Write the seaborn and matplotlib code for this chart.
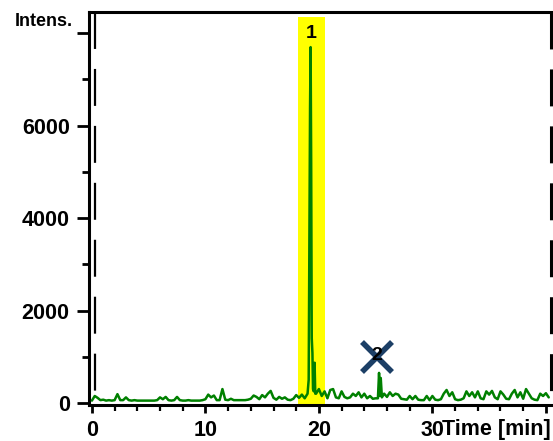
import numpy as np
import pandas as pd
import seaborn as sns
import matplotlib
matplotlib.use("Agg")
import matplotlib.pyplot as plt

sns.set_style("white")
plt.rcParams["font.family"] = ["Liberation Sans", "DejaVu Sans"]
plt.rcParams["font.weight"] = "bold"
plt.rcParams["lines.scale_dashes"] = False
plt.rcParams["text.color"] = "black"
plt.rcParams["xtick.color"] = "black"
plt.rcParams["ytick.color"] = "black"
plt.rcParams["axes.labelcolor"] = "black"

# ---- data ----
base1_start, base1_step = 0.0, 0.25
base1_int = [50, 150, 110, 60, 70, 50, 60, 50,
             60, 190, 60, 60, 120, 60, 50, 60,
             50, 50, 50, 50, 50, 50, 50, 60,
             120, 80, 130, 60, 50, 60, 130, 60,
             50, 50, 60, 50, 50, 50, 50, 60,
             80, 180, 120, 160, 60, 60, 300, 70,
             60, 90, 60, 60, 60, 60, 60, 70,
             90, 160, 130, 80, 170, 120, 200, 260,
             110, 70, 130, 90, 120, 70, 60, 90,
             170, 110, 180, 100]
peak1_time = [19.0, 19.1, 19.18, 19.22, 19.27, 19.32, 19.37, 19.43, 19.48, 19.55, 19.62, 19.68]
peak1_int = [200, 500, 4500, 6400, 7700, 5200, 1400, 1080, 300, 250, 870, 200]
base2_start = 19.75
base2_int = [200, 300, 150, 250, 100, 280, 300, 120,
             100, 250, 130, 100, 120, 200, 150, 230,
             120, 200, 100, 150, 90, 100]
peak2_time = [25.2, 25.3, 25.38, 25.45, 25.55]
peak2_int = [100, 650, 150, 540, 120]
base3_start = 25.75
base3_int = [200, 130, 230, 150, 200, 180, 90, 80,
             70, 150, 80, 150, 70, 60, 60, 150,
             60, 150, 70, 60, 80, 200, 280, 150,
             230, 80, 60, 70, 100, 250, 150, 230,
             120, 250, 100, 80, 250, 180, 260, 120,
             80, 250, 180, 90, 80, 200, 280, 120,
             230, 90, 300, 200, 100, 70, 60, 200,
             150, 210, 120]

highlight_range = [18.15, 20.53]
highlight_top = 8355
peak_labels = ["1", "2"]
peak_label_pos = [(19.3, 8000), (25.1, 1030)]
excluded_peak = (25.1, 995)

x_major = [0, 10, 20, 30, 40]
x_major_labels = ["0", "10", "20", "30", ""]
x_minor = list(range(0, 41, 2))
y_major = [0, 2000, 4000, 6000, 8000]
y_major_labels = ["0", "2000", "4000", "6000", ""]
y_minor = [1000, 3000, 5000, 7000]

def grid(start, step, vals):
    return [round(start + i * step, 3) for i in range(len(vals))]

time = (grid(base1_start, base1_step, base1_int) + peak1_time +
        grid(base2_start, base1_step, base2_int) + peak2_time +
        grid(base3_start, base1_step, base3_int))
intensity = base1_int + peak1_int + base2_int + peak2_int + base3_int
df = pd.DataFrame({"time": time, "intensity": intensity})

# ---- figure ----
W, H = 553, 441
fig = plt.figure(figsize=(W / 100, H / 100), dpi=100)
ax = fig.add_axes([88.5 / W, 1 - 405 / H, (551 - 88.5) / W, (405 - 12) / H])
ax.set_xlim(-0.3, 40.45)
ax.set_ylim(-45, 8460)

ax.fill_between(highlight_range, -20, highlight_top, color="#ffff00", lw=0, zorder=1)

sns.lineplot(data=df, x="time", y="intensity", ax=ax, color="#008000", lw=1.8,
             estimator=None, sort=False, zorder=3)

ax.plot([excluded_peak[0]], [excluded_peak[1]], marker="x", ms=21, mew=4,
        color="#1c3f66", zorder=4, ls="none")
for lab, (px, py) in zip(peak_labels, peak_label_pos):
    ax.text(px, py, lab, ha="center", va="center", fontsize=14,
            fontweight="bold", color="black", zorder=5)

# dashed vertical lines
trans = ax.get_xaxis_transform()
for xv, lw in [(0.27, 1.6), (40.43, 2.2)]:
    ax.plot([xv, xv], [1, 0], transform=trans, color="black", lw=lw,
            linestyle=(0, (26.6, 14.4)), solid_capstyle="butt",
            dash_capstyle="butt", clip_on=False, zorder=6)

for side in ["left", "top", "bottom"]:
    ax.spines[side].set_linewidth(2.2)
    ax.spines[side].set_color("black")
    ax.spines[side].set_visible(True)
ax.spines["right"].set_visible(False)

ax.set_xticks(x_major)
ax.set_xticklabels(x_major_labels)
ax.set_xticks(x_minor, minor=True)
ax.set_yticks(y_major)
ax.set_yticklabels(y_major_labels)
ax.set_yticks(y_minor, minor=True)
ax.tick_params(axis="x", which="major", direction="out", length=6, width=2,
               pad=5, labelsize=15.5, bottom=True, colors="black")
ax.tick_params(axis="x", which="minor", direction="out", length=4, width=1.6,
               bottom=True, colors="black")
ax.tick_params(axis="y", which="major", direction="out", length=8.5, width=2,
               pad=5, labelsize=15.5, left=True, colors="black")
ax.tick_params(axis="y", which="minor", direction="out", length=5, width=2,
               left=True, colors="black")
for lab in ax.get_xticklabels() + ax.get_yticklabels():
    lab.set_fontweight("bold")
ax.set_xlabel("")
ax.set_ylabel("")

fig.text(73 / W, 1 - 22 / H, "Intens.", ha="right", va="center", fontsize=13,
         fontweight="bold", color="black")
fig.text(551 / W, 1 - 430 / H, "Time [min]", ha="right", va="center",
         fontsize=15.5, fontweight="bold", color="black")

fig.savefig("out.png", dpi=100)
